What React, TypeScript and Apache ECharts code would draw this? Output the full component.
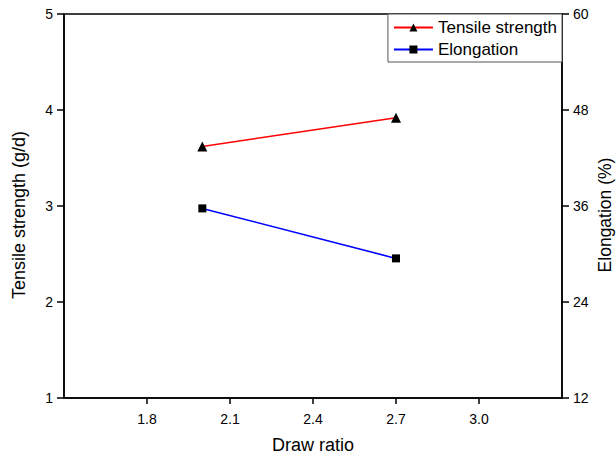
import React, { useEffect, useRef } from "react";
import * as echarts from "echarts";

const drawRatio = [2.0, 2.7];
const tensileStrength = [3.62, 3.92];
const elongation = [35.7, 29.45];
const xTicks = [1.8, 2.1, 2.4, 2.7, 3.0];
const leftTicks = [1, 2, 3, 4, 5];
const rightTicks = [12, 24, 36, 48, 60];

const FONT = "'Liberation Sans', Arial, sans-serif";

export default function App() {
  const ref = useRef<HTMLDivElement>(null);
  useEffect(() => {
    if (!ref.current) return;
    const chart = echarts.init(ref.current, undefined, { renderer: "svg" });
    const axisLine = { show: true, lineStyle: { color: "#000", width: 1.5 } };
    chart.setOption({
      animation: false,
      backgroundColor: "#fff",
      textStyle: { fontFamily: FONT },
      grid: {
        left: 64,
        right: 54,
        top: 14,
        bottom: 62,
        outerBoundsMode: "none",
        containLabel: false,
        show: true,
        borderColor: "#000",
        borderWidth: 1.5,
        backgroundColor: "transparent",
      },
      legend: {
        orient: "vertical",
        right: 54,
        top: 14,
        padding: [5, 5, 4, 5],
        itemGap: 5,
        itemWidth: 39,
        itemHeight: 10,
        borderColor: "#555",
        borderWidth: 1,
        backgroundColor: "#fff",
        textStyle: { fontFamily: FONT, fontSize: 17, color: "#000" },
        data: ["Tensile strength", "Elongation"],
      },
      xAxis: {
        type: "value",
        min: 1.5,
        max: 3.3,
        interval: 0.3,
        name: "Draw ratio",
        nameLocation: "middle",
        nameGap: 38,
        nameMoveOverlap: false,
        nameTextStyle: { fontFamily: FONT, fontSize: 18, color: "#000" },
        axisLine,
        axisTick: {
          show: true,
          inside: false,
          length: 6,
          customValues: xTicks,
          lineStyle: { color: "#000", width: 1.5 },
        },
        axisLabel: {
          customValues: xTicks,
          formatter: (v: number) => v.toFixed(1),
          fontFamily: FONT,
          fontSize: 14,
          color: "#000",
          margin: 14,
        },
        splitLine: { show: false },
      },
      yAxis: [
        {
          type: "value",
          position: "left",
          min: 1,
          max: 5,
          interval: 1,
          name: "Tensile strength (g/d)",
          nameLocation: "middle",
          nameGap: 36,
          nameMoveOverlap: false,
          nameTextStyle: {
            fontFamily: FONT,
            fontSize: 18,
            lineHeight: 18,
            color: "#000",
            padding: [0, 18, 0, 0],
          },
          axisLine,
          axisTick: {
            show: true,
            inside: false,
            length: 7,
            customValues: leftTicks,
            lineStyle: { color: "#000", width: 1.5 },
          },
          axisLabel: {
            customValues: leftTicks,
            fontFamily: FONT,
            fontSize: 14,
            color: "#000",
            margin: 11,
          },
          splitLine: { show: false },
        },
        {
          type: "value",
          position: "right",
          min: 12,
          max: 60,
          interval: 12,
          name: "Elongation (%)",
          nameLocation: "middle",
          nameGap: 34,
          nameMoveOverlap: false,
          nameTextStyle: {
            fontFamily: FONT,
            fontSize: 17.5,
            lineHeight: 18,
            color: "#000",
            padding: [0, 18, 0, 0],
          },
          axisLine,
          axisTick: {
            show: true,
            inside: false,
            length: 7,
            customValues: rightTicks,
            lineStyle: { color: "#000", width: 1.5 },
          },
          axisLabel: {
            customValues: rightTicks,
            fontFamily: FONT,
            fontSize: 14,
            color: "#000",
            margin: 11,
          },
          splitLine: { show: false },
        },
      ],
      series: [
        {
          name: "Tensile strength",
          type: "line",
          yAxisIndex: 0,
          data: drawRatio.map((x, i) => [x, tensileStrength[i]]),
          symbol: "triangle",
          symbolSize: 10,
          itemStyle: { color: "#000" },
          lineStyle: { color: "#ff0000", width: 1.6 },
        },
        {
          name: "Elongation",
          type: "line",
          yAxisIndex: 1,
          data: drawRatio.map((x, i) => [x, elongation[i]]),
          symbol: "rect",
          symbolSize: 8,
          itemStyle: { color: "#000" },
          lineStyle: { color: "#0000ff", width: 1.6 },
        },
      ],
    });
    return () => chart.dispose();
  }, []);
  return (
    <div
      ref={ref}
      style={{ position: "fixed", left: 0, top: 0, width: 616, height: 460 }}
    />
  );
}
